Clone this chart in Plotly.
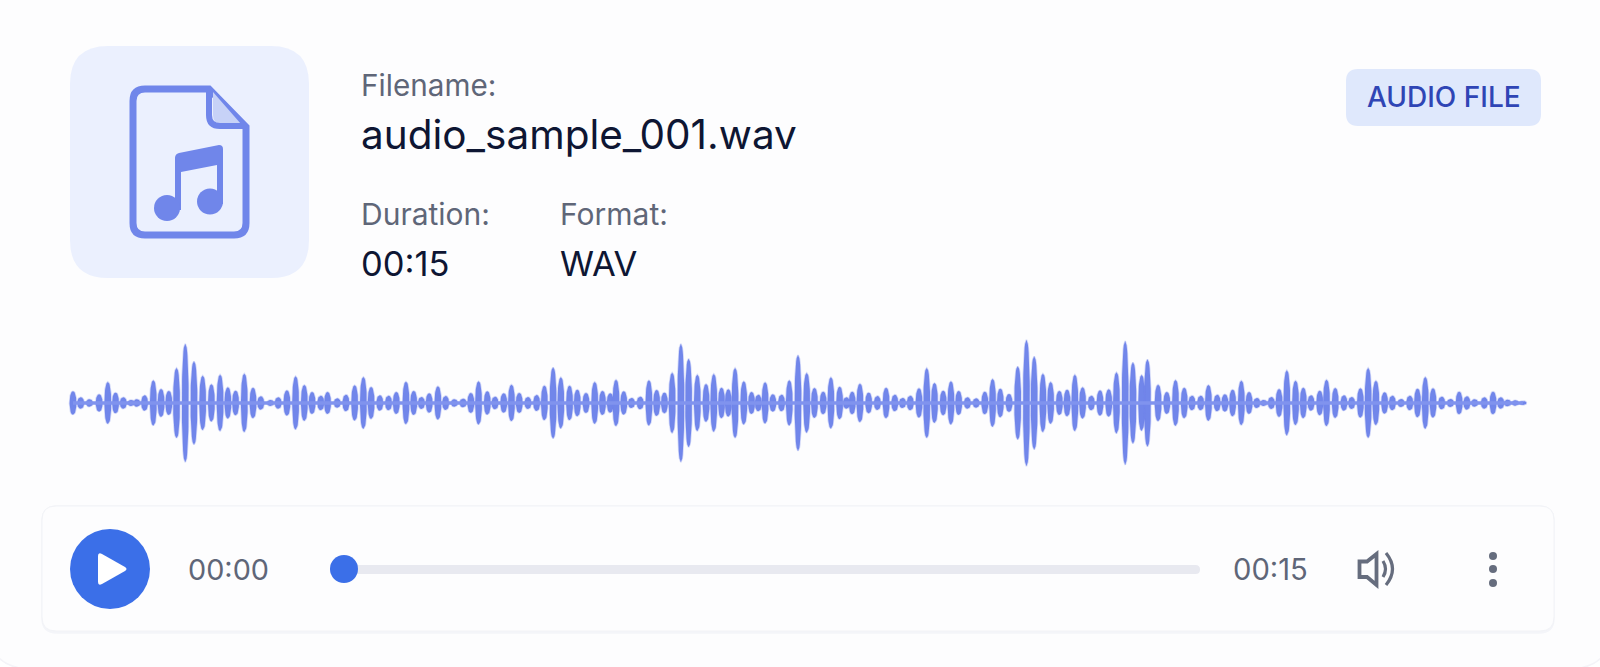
import numpy as np
import plotly.graph_objects as go

# ---- data ----
peak_time = [0.01,0.09,0.18,0.28,0.37,0.45,0.53,0.61,0.67,0.75,0.84,0.92,1.00,1.08,1.17,1.26,1.35,1.44,1.53,1.61,1.69,1.78,1.87,1.95,2.05,2.13,2.22,2.31,2.40,2.48,2.57,2.64,2.74,2.83,2.92,3.01,3.09,3.18,3.27,3.35,3.45,3.53,3.61,3.69,3.78,3.86,
3.95,4.04,4.12,4.20,4.29,4.37,4.46,4.54,4.62,4.71,4.80,4.88,4.97,5.05,5.14,5.22,5.31,5.40,5.48,5.56,5.62,5.70,5.78,5.87,5.96,6.04,6.12,6.20,6.29,6.37,6.46,6.55,6.63,6.71,6.78,6.85,6.94,7.02,7.09,7.16,7.24,7.33,7.41,7.50,7.59,7.67,7.76,7.84,7.93,8.00,
8.06,8.14,8.23,8.32,8.41,8.50,8.58,8.66,8.75,8.83,8.91,9.00,9.08,9.16,9.25,9.34,9.43,9.51,9.59,9.68,9.77,9.86,9.94,10.03,10.11,10.20,10.28,10.36,10.44,10.53,10.62,10.71,10.79,10.88,10.96,11.05,11.11,11.22,11.31,11.40,11.49,11.57,11.66,11.74,11.83,11.91,11.99,12.08,12.16,
12.24,12.31,12.39,12.47,12.55,12.64,12.72,12.80,12.89,12.96,13.05,13.14,13.22,13.31,13.39,13.47,13.56,13.64,13.73,13.82,13.90,13.98,14.06,14.15,14.24,14.33,14.41,14.49,14.59,14.68,14.76,14.83,14.91,14.99]
peak_amp = [35,17,11,26,63,31,17,9,11,23,68,42,36,105,178,125,82,56,85,47,37,88,46,20,9,17,38,80,54,33,22,33,14,25,53,78,48,23,22,33,64,36,18,29,50,21,
11,13,30,65,35,19,29,55,30,18,24,52,107,77,52,40,30,63,36,29,70,35,15,19,68,39,31,91,178,133,85,57,87,46,41,105,65,33,25,62,26,25,68,144,90,45,34,77,49,17,
34,58,31,21,46,25,15,22,44,105,60,37,65,36,17,14,34,72,43,27,110,190,140,88,63,36,40,85,47,22,38,41,92,186,122,84,131,55,33,69,46,22,22,54,25,26,40,67,33,
15,9,18,42,98,67,46,23,37,70,45,23,18,44,105,67,32,22,12,22,43,78,44,19,12,34,20,11,17,34,17,10,8,6]
file_name = "audio_sample_001.wav"
duration_text = "00:15"
format_text = "WAV"
badge_text = "AUDIO FILE"
elapsed_text = "00:00"

# ---- waveform geometry: lobes on the time axis ----
PX_PER_S = 96.8
s = np.linspace(-1, 1, 31)
wx, wy = [], []
for t, a in zip(peak_time, peak_amp):
    half = 3.4 / PX_PER_S
    wx += list(t + half * (1 - s**2) ** 0.45) + list(t - half * (1 - s[::-1]**2) ** 0.45) + [None]
    wy += list(a * s) + list(a * s[::-1]) + [None]

WAVE = "#7186EA"
FONT = "Inter"
fig = go.Figure()
fig.add_trace(go.Scatter(x=wx, y=wy, mode="lines", fill="toself", fillcolor=WAVE,
                         line=dict(color="rgba(113,134,234,0.3)", width=1.6),
                         xaxis="x2", yaxis="y2", hoverinfo="skip", showlegend=False))
fig.add_trace(go.Scatter(x=[peak_time[0], peak_time[-1]], y=[0, 0], mode="lines",
                         line=dict(color="#8093EE", width=3.5),
                         xaxis="x2", yaxis="y2", hoverinfo="skip", showlegend=False))


def rrect(x0, y0, x1, y1, r):
    return (f"M{x0+r},{y0} L{x1-r},{y0} Q{x1},{y0} {x1},{y0+r} L{x1},{y1-r} Q{x1},{y1} {x1-r},{y1} "
            f"L{x0+r},{y1} Q{x0},{y1} {x0},{y1-r} L{x0},{y0+r} Q{x0},{y0} {x0+r},{y0} Z")


shapes = []
def add(path, fill=None, line=None, w=0):
    d = dict(type="path", path=path, xref="x", yref="y", layer="below",
             line=dict(width=w, color=line or "rgba(0,0,0,0)"))
    d["fillcolor"] = fill or "rgba(0,0,0,0)"
    shapes.append(d)


def circle(cx, cy, r, fill):
    shapes.append(dict(type="circle", x0=cx-r, x1=cx+r, y0=cy-r, y1=cy+r, xref="x", yref="y",
                       layer="below", fillcolor=fill, line=dict(width=0)))


ICON = "#7086EA"
# card
add(rrect(-12, -60, 1612, 669, 44), "#FDFDFE", "#F4F4F8", 1.5)
# icon tile
add(rrect(70, 46, 309, 278, 38), "#EBF0FE")
# file outline
add("M145,89 L209,89 L246,127 L246,223 Q246,235 234,235 L145,235 Q133,235 133,223 L133,101 Q133,89 145,89 Z",
    None, ICON, 7)
add("M213,92 L241,124 L222,124 Q213,124 213,115 Z", "#C7D2F7")
add("M209,89 L209,115 Q209,126 220,126 L246,126", None, ICON, 6)
# note
add("M175,158 Q175,154 179,153 L219,145 Q223,145 223,149 L223,204 L217,204 L217,165 L181,172 L181,210 L175,210 Z", ICON)
circle(167, 208, 13, ICON)
circle(210, 201.5, 13, ICON)
# badge
add(rrect(1346, 69, 1541, 126, 12), "#DFE8FC")
# player panel
add(rrect(42, 506, 1554, 633, 15), "#F4F5F9", "#F4F5F9", 1.5)
add(rrect(42, 506, 1554, 631, 14), "#FDFDFE", "#F2F3F7", 1)
# play
circle(110, 569, 40, "#3B6FE8")
add("M98,556 Q98,552 102,554 L125,567 Q128,569 125,571 L102,584 Q98,586 98,582 Z", "#FFFFFF")
# slider
add(rrect(344, 565, 1200, 574, 4.5), "#E8E9F0")
circle(344, 569, 14, "#3B6FE8")
# volume
VOL = "#666D7E"
add("M1359.5,561.5 L1367,561.5 L1376.5,554 L1376.5,585 L1367,577 L1359.5,577 Z", None, VOL, 3.8)
add("M1383,561 Q1388,569 1383,577", None, VOL, 3.2)
add("M1386,553 Q1399,569 1386,585", None, VOL, 3.2)
# dots
for cy in (556, 569, 583):
    circle(1493, cy, 4, VOL)

LBL = "#5F6678"
DARK = "#0E1633"
def txt(x, y, t, size, color, weight=400, anchor="left"):
    fig.add_annotation(x=x, y=y, text=t, showarrow=False, xref="x", yref="y",
                       xanchor=anchor, yanchor="middle",
                       font=dict(family=FONT, size=size, color=color, weight=weight))

txt(359, 85, "Filename:", 29.7, LBL)
txt(359, 134, file_name, 40.5, DARK)
txt(359, 214, "Duration:", 30, LBL)
txt(558, 214, "Format:", 30, LBL)
txt(359, 263, duration_text, 34.5, DARK)
txt(558, 263, format_text, 34.5, DARK)
txt(1443.5, 97, badge_text, 28, "#2F45B5", 500, "center")
txt(186, 569, elapsed_text, 28.8, LBL)
txt(1231, 569, duration_text, 29.2, LBL)

fig.update_layout(
    width=1600, height=667, margin=dict(l=0, r=0, t=0, b=0, pad=0),
    paper_bgcolor="#FFFFFF", plot_bgcolor="rgba(0,0,0,0)", showlegend=False, shapes=shapes,
    xaxis=dict(range=[0, 1600], visible=False, domain=[0, 1], fixedrange=True),
    yaxis=dict(range=[667, 0], visible=False, domain=[0, 1], fixedrange=True),
    xaxis2=dict(range=[-72 / PX_PER_S, (1600 - 72) / PX_PER_S], visible=False, overlaying="x", fixedrange=True),
    yaxis2=dict(range=[-(667 - 403) * 3, 403 * 3], visible=False, overlaying="y", fixedrange=True),
)
fig.write_html("out.html", config=dict(displayModeBar=False),
               post_script="document.body.style.margin='0';document.body.style.overflow='hidden';")
